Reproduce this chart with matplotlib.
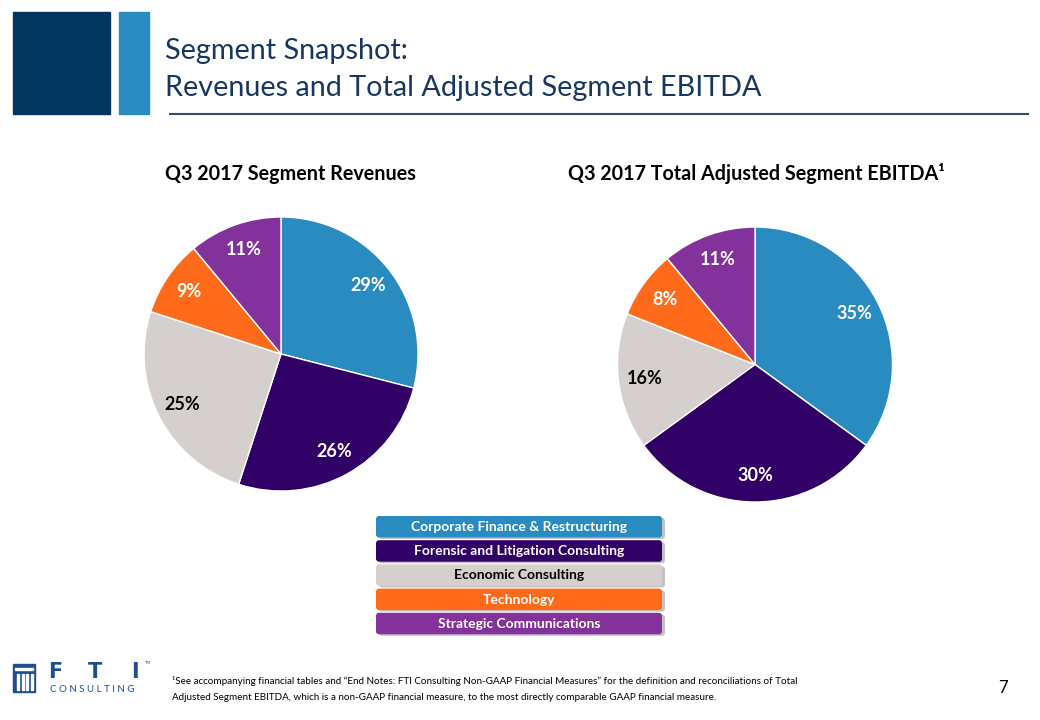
import matplotlib
matplotlib.use("Agg")
import matplotlib.pyplot as plt
from matplotlib.patches import Rectangle, FancyBboxPatch

plt.rcParams['font.family'] = ['Lato', 'DejaVu Sans']

# ---- data ----
segments = ["Corporate Finance & Restructuring", "Forensic and Litigation Consulting",
            "Economic Consulting", "Technology", "Strategic Communications"]
revenue_pct = [29, 26, 25, 9, 11]
ebitda_pct = [35, 30, 16, 8, 11]
colors = ["#2A8BC0", "#300066", "#D5D0CE", "#FF6B1A", "#84329B"]
label_colors = ["white", "white", "black", "white", "white"]
titles = ["Q3 2017 Segment Revenues", "Q3 2017 Total Adjusted Segment EBITDA\u00b9"]
W, H = 1040, 720

fig = plt.figure(figsize=(W / 100, H / 100), dpi=100)
bg = fig.add_axes([0, 0, 1, 1])
bg.set_xlim(0, W)
bg.set_ylim(H, 0)
bg.axis("off")

# header blocks
bg.add_patch(Rectangle((13, 12), 97, 102, color="#023660"))
bg.add_patch(Rectangle((119, 12), 30, 102, color="#2A8BC0"))
bg.text(165, 51, "Segment Snapshot:", fontsize=20.7, color="#17375E", va="center", ha="left")
bg.text(165, 88, "Revenues and Total Adjusted Segment EBITDA", fontsize=20.7, color="#17375E",
        va="center", ha="left")
bg.plot([170, 1028], [114, 114], color="#2F4F6A", lw=1.5)


def draw_pie(cx, cy, r, values, title, tx):
    ax = fig.add_axes([(cx - r) / W, 1 - (cy + r) / H, 2 * r / W, 2 * r / H])
    wedges, texts, autotexts = ax.pie(values, colors=colors, startangle=90, counterclock=False,
                                      autopct="%d%%", pctdistance=0.81,
                                      wedgeprops=dict(edgecolor="white", linewidth=1))
    for t, c in zip(autotexts, label_colors):
        t.set_color(c)
        t.set_fontsize(13)
        t.set_fontweight("bold")
    ax.set_xlim(-1, 1)
    ax.set_ylim(-1, 1)
    ax.set_aspect("equal")
    bg.text(tx, 174, title, fontsize=14.2, fontweight="bold", ha="center", va="center", color="black")


draw_pie(281, 354, 137, revenue_pct, titles[0], 290)
draw_pie(755, 364.5, 137.5, ebitda_pct, titles[1], 756)

# legend boxes
y0 = 516
for i, (name, c, tc) in enumerate(zip(segments, colors, label_colors)):
    y = y0 + i * 24.2
    bg.add_patch(FancyBboxPatch((379, y + 2), 286, 21, boxstyle="round,pad=0,rounding_size=3",
                                fc="#9A9A9A", ec="none", alpha=0.6))
    bg.add_patch(FancyBboxPatch((376, y), 286, 21.5, boxstyle="round,pad=0,rounding_size=3",
                                fc=c, ec="none"))
    bg.text(519, y + 11, name, fontsize=10, fontweight="bold", color=tc, ha="center", va="center")

# footer logo
bg.add_patch(Rectangle((13, 664), 22, 28, color="#1F4E8C"))
for k in range(4):
    bg.add_patch(Rectangle((17 + k * 4.5, 674), 2, 16, color="white"))
bg.add_patch(Rectangle((15, 668), 18, 2, color="white"))
for x, ch in [(55, "F"), (95, "T"), (135, "I")]:
    bg.text(x, 672, ch, fontsize=15, fontweight="bold", color="#1F4E8C", ha="center", va="center",
            family="DejaVu Sans")
bg.text(145, 663, "TM", fontsize=3, color="#1F4E8C", ha="left", va="center")
bg.text(50, 689, "C O N S U L T I N G", fontsize=7, color="#1F4E8C", ha="left", va="center")

bg.text(172, 681, "\u00b9See accompanying financial tables and \u201cEnd Notes: FTI Consulting Non-GAAP Financial Measures\u201d for the definition and reconciliations of Total",
        fontsize=7.1, ha="left", va="center", color="black")
bg.text(172, 697, "Adjusted Segment EBITDA, which is a non-GAAP financial measure, to the most directly comparable GAAP financial measure.",
        fontsize=7.1, ha="left", va="center", color="black")
bg.text(1003, 688, "7", fontsize=12, ha="center", va="center", color="black")

fig.savefig("out.png", dpi=100)
